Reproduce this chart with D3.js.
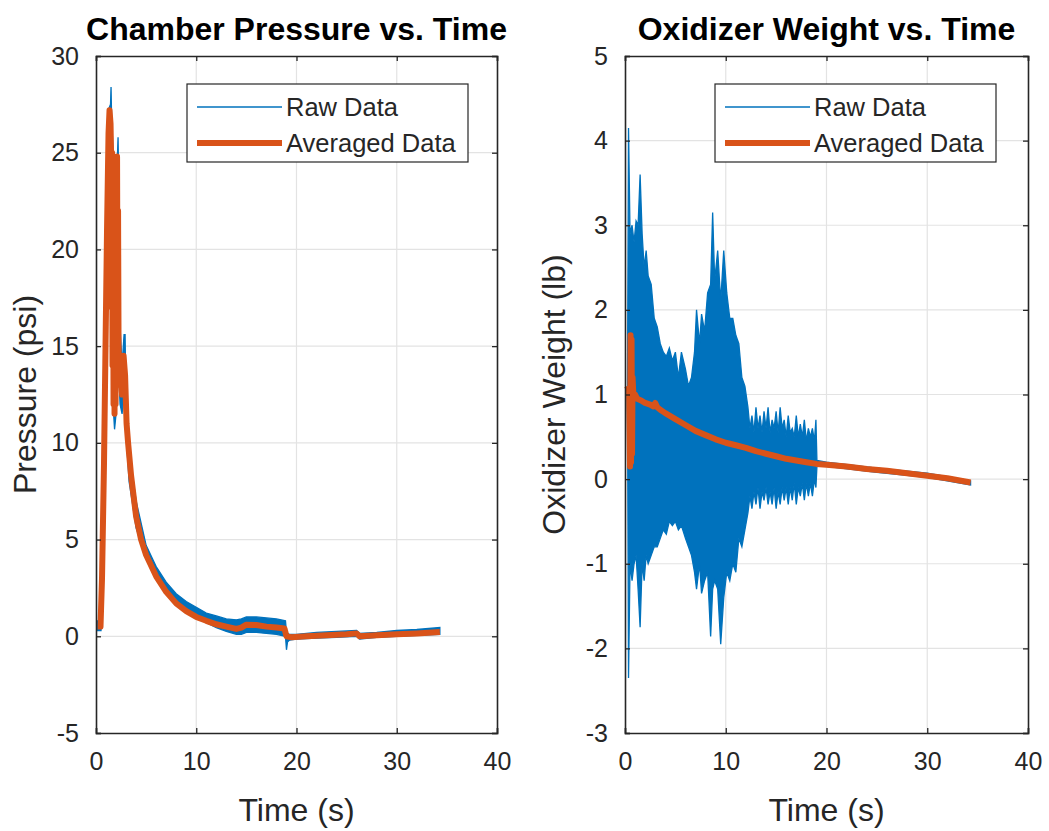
<!DOCTYPE html>
<html>
<head>
<meta charset="utf-8">
<script src="https://cdn.jsdelivr.net/npm/d3@7/dist/d3.min.js"></script>
<style>
  body { margin: 0; background: #fff; }
  text { font-family: "Liberation Sans", Arial, sans-serif; fill: #262626; }
</style>
</head>
<body>
<div id="vis"></div>
<script>
// ---- chamber pressure (psi) ----
const presRawTime = [0.15, 0.5, 0.6, 0.8, 0.95, 1.1, 1.3, 1.45, 1.5, 1.55, 1.7, 1.85, 2.0, 2.15, 2.2, 2.25, 2.4, 2.6, 2.8, 2.9, 3.0, 3.3, 3.6, 4, 5, 6, 7, 8, 9, 10, 11, 12, 13, 14, 14.5, 15, 16, 17, 18, 18.9, 19.0, 19.1, 19.3, 20, 22, 24, 26, 26.3, 28, 30, 32, 34.3]
const presRawHigh = [0.8, 0.8, 4, 10, 16, 22, 27.3, 27.5, 28.4, 27, 25, 23, 24, 25, 25.8, 24, 16, 14, 15.6, 15.6, 12, 10, 8.5, 7, 4.7, 3.6, 2.8, 2.2, 1.8, 1.5, 1.2, 1.05, 0.9, 0.85, 0.9, 1.0, 1.0, 0.95, 0.9, 0.8, 0.2, 0.15, 0.1, 0.1, 0.2, 0.25, 0.3, 0.15, 0.2, 0.3, 0.35, 0.45]
const presRawLow = [0.3, 0.3, 2, 8, 14, 20, 25.5, 26, 25, 16, 12, 10.7, 11.5, 14, 15, 14, 12, 11.5, 12.5, 13, 10.5, 8, 7, 5.6, 4.0, 3.0, 2.3, 1.7, 1.3, 1.0, 0.7, 0.45, 0.25, 0.1, 0.1, 0.2, 0.2, 0.15, 0.1, 0.0, -0.7, -0.3, -0.2, -0.15, -0.1, -0.05, 0.0, -0.15, -0.05, 0.0, 0.05, 0.1]
const presAvgTime = [0.15, 0.45, 0.6, 0.8, 0.95, 1.1, 1.25, 1.35, 1.45, 1.5, 1.55, 1.6, 1.65, 1.7, 1.75, 1.8, 1.85, 1.9, 1.95, 2.0, 2.05, 2.1, 2.15, 2.2, 2.25, 2.35, 2.45, 2.6, 2.75, 2.9, 3.05, 3.2, 3.5, 4, 4.5, 5, 6, 7, 8, 9, 10, 11, 12, 13, 14, 14.5, 15, 16, 17, 18, 18.8, 19.0, 19.5, 21, 23, 25, 26, 26.3, 28, 30, 32, 34.3]
const presAvg = [0.5, 0.5, 3, 9, 15, 21, 26, 27.2, 26.5, 25, 17, 25, 14, 23, 12, 21, 11.5, 19, 12, 22, 14, 24.8, 16, 22, 15, 13, 14, 12.5, 14.5, 13.5, 11, 10, 8.3, 6.2, 5.0, 4.2, 3.1, 2.3, 1.7, 1.3, 1.0, 0.8, 0.62, 0.5, 0.38, 0.45, 0.6, 0.58, 0.5, 0.45, 0.4, 0.0, -0.05, 0.0, 0.05, 0.1, 0.15, 0.0, 0.05, 0.1, 0.15, 0.22]

// ---- oxidizer weight (lb) ----
const oxRawTime = [0.25, 0.35, 0.5, 0.7, 0.9, 1.1, 1.3, 1.5, 1.7, 1.9, 2.1, 2.3, 2.6, 2.9, 3.2, 3.5, 3.8, 4.1, 4.4, 4.7, 5.0, 5.3, 5.6, 6.0, 6.3, 6.6, 6.9, 7.1, 7.4, 7.6, 7.9, 8.2, 8.5, 8.7, 8.9, 9.2, 9.5, 9.8, 10.1, 10.4, 10.7, 11.0, 11.3, 11.6, 11.9,
    12.2, 12.4, 12.6, 12.8, 13.0, 13.2, 13.4, 13.6, 13.8, 14.0, 14.2, 14.4, 14.6, 14.8, 15.0, 15.2, 15.4, 15.6, 15.8, 16.0, 16.2, 16.4, 16.6, 16.8, 17.0, 17.2, 17.4, 17.6, 17.8, 18.0, 18.2, 18.4, 18.6, 18.8, 18.95,
    19.05, 20, 25, 30, 34.3]
const oxRawHigh = [1.2, 4.15, 2.9, 3.0, 2.8, 3.05, 3.0, 3.6, 2.9, 2.5, 2.7, 2.4, 2.3, 1.9, 1.8, 1.6, 1.5, 1.45, 1.55, 1.4, 1.5, 1.2, 1.5, 1.3, 1.1, 1.2, 1.5, 2.0, 1.6, 1.95, 1.75, 2.2, 2.3, 3.15, 2.35, 2.7, 2.1, 2.7, 2.2, 1.9, 1.9, 1.7, 1.6, 1.2, 1.1,
    0.85, 0.6, 0.75, 0.55, 0.85, 0.6, 0.75, 0.55, 0.8, 0.6, 0.85, 0.55, 0.7, 0.6, 0.8, 0.55, 0.85, 0.6, 0.7, 0.5, 0.75, 0.55, 0.6, 0.5, 0.75, 0.5, 0.65, 0.5, 0.7, 0.45, 0.6, 0.5, 0.6, 0.45, 0.7,
    0.22, 0.2, 0.13, 0.07, -0.02]
const oxRawLow = [0.9, -2.35, -1.0, -1.2, -1.0, -0.9, -1.3, -1.75, -1.0, -1.2, -0.9, -1.0, -0.9, -0.8, -0.8, -0.7, -0.6, -0.65, -0.5, -0.55, -0.5, -0.6, -0.55, -0.7, -0.8, -0.9, -1.1, -1.3, -1.0, -1.35, -1.2, -1.1, -1.86, -1.3, -1.2, -1.3, -1.95, -1.4, -1.1, -1.2, -1.0, -1.1, -0.7, -0.8, -0.6,
    -0.4, -0.2, -0.35, -0.15, -0.3, -0.1, -0.35, -0.15, -0.25, -0.1, -0.3, -0.15, -0.3, -0.1, -0.35, -0.15, -0.3, -0.1, -0.25, -0.1, -0.3, -0.1, -0.25, -0.05, -0.3, -0.1, -0.2, -0.05, -0.25, -0.05, -0.2, -0.05, -0.2, 0.0, -0.1,
    0.15, 0.15, 0.08, 0.02, -0.07]
const oxAvgTime = [0.2, 0.4, 0.5, 0.55, 0.6, 0.65, 0.7, 0.75, 0.85, 1.0, 1.2, 1.6, 2.0, 2.5, 2.8, 3.0, 3.2, 3.5, 4, 5, 6, 7, 8, 9, 10, 11, 12, 13, 14, 15, 16, 17, 18, 19, 20, 22, 24, 26, 28, 30, 32, 34.3]
const oxAvg = [1.1, 1.05, 0.15, 1.7, 0.2, 1.65, 0.3, 1.2, 0.95, 1.0, 0.95, 0.93, 0.9, 0.88, 0.86, 0.9, 0.85, 0.82, 0.78, 0.71, 0.64, 0.57, 0.52, 0.47, 0.43, 0.4, 0.37, 0.33, 0.3, 0.27, 0.24, 0.22, 0.2, 0.18, 0.17, 0.15, 0.12, 0.1, 0.07, 0.04, 0.01, -0.04]

const xTicks = [0, 10, 20, 30, 40]
const presTicks = [-5, 0, 5, 10, 15, 20, 25, 30]
const oxTicks = [-3, -2, -1, 0, 1, 2, 3, 4, 5]
const legendLabels = ["Raw Data", "Averaged Data"]

const BLUE = "#0072BD"
const ORANGE = "#D95319"

;(function() {
    const width = 1049
    const height = 831

    const svg = d3.select("#vis")
        .append("svg")
        .attr("width", width)
        .attr("height", height)

    function panel(cfg) {
        const x = d3.scaleLinear().domain([0, 40]).range([cfg.left, cfg.right])
        const y = d3.scaleLinear().domain(cfg.yDomain).range([733, 56])
        const g = svg.append("g")

        // grid
        g.selectAll(".gx").data(xTicks.slice(1, -1)).join("line")
            .attr("x1", d => x(d)).attr("x2", d => x(d))
            .attr("y1", y.range()[0]).attr("y2", y.range()[1])
            .attr("stroke", "#e3e3e3").attr("stroke-width", 1.2)
        g.selectAll(".gy").data(cfg.yTicks.slice(1, -1)).join("line")
            .attr("x1", cfg.left).attr("x2", cfg.right)
            .attr("y1", d => y(d)).attr("y2", d => y(d))
            .attr("stroke", "#e3e3e3").attr("stroke-width", 1.2)

        // raw data envelope
        const idx = d3.range(cfg.rawT.length)
        g.append("path")
            .datum(idx)
            .attr("d", d3.area()
                .x(i => x(cfg.rawT[i]))
                .y0(i => y(cfg.rawLo[i]))
                .y1(i => y(cfg.rawHi[i])))
            .attr("fill", BLUE)
            .attr("stroke", BLUE)
            .attr("stroke-width", 1.3)
            .attr("stroke-linejoin", "miter")

        // averaged
        g.append("path")
            .datum(d3.range(cfg.avgT.length))
            .attr("d", d3.line().x(i => x(cfg.avgT[i])).y(i => y(cfg.avg[i])))
            .attr("fill", "none")
            .attr("stroke", ORANGE)
            .attr("stroke-width", 6)
            .attr("stroke-linejoin", "round")

        // axes (box on, ticks inward on all sides)
        const xb = g.append("g").attr("transform", `translate(0,${y.range()[0]})`)
            .call(d3.axisBottom(x).tickValues(xTicks).tickSize(-5).tickPadding(19).tickFormat(d3.format("d")))
        const xt = g.append("g").attr("transform", `translate(0,${y.range()[1]})`)
            .call(d3.axisTop(x).tickValues(xTicks).tickSize(-5).tickFormat(""))
        const yl = g.append("g").attr("transform", `translate(${cfg.left},0)`)
            .call(d3.axisLeft(y).tickValues(cfg.yTicks).tickSize(-5).tickPadding(17).tickFormat(d => String(d)))
        const yr = g.append("g").attr("transform", `translate(${cfg.right},0)`)
            .call(d3.axisRight(y).tickValues(cfg.yTicks).tickSize(-5).tickFormat(""))
        ;[xb, xt, yl, yr].forEach(a => {
            a.select(".domain").attr("stroke", "#262626").attr("stroke-width", 1.6)
            a.selectAll(".tick line").attr("stroke", "#262626").attr("stroke-width", 1.3)
            a.selectAll("text").attr("font-size", 25).attr("fill", "#262626")
                .style("font-family", '"Liberation Sans", Arial, sans-serif')
        })

        // title & labels
        const cx = (cfg.left + cfg.right) / 2
        g.append("text").attr("x", cx).attr("y", 40)
            .attr("text-anchor", "middle").attr("font-size", 32).attr("font-weight", "bold")
            .style("fill", "#000").text(cfg.title)
        g.append("text").attr("x", cx).attr("y", 821)
            .attr("text-anchor", "middle").attr("font-size", 32).text("Time (s)")
        g.append("text")
            .attr("transform", `translate(${cfg.left - 60},${(56 + 733) / 2}) rotate(-90)`)
            .attr("text-anchor", "middle").attr("font-size", 32).text(cfg.yLabel)

        // legend
        const lx = cfg.legendLeft
        const leg = g.append("g")
        leg.append("rect").attr("x", lx).attr("y", 84).attr("width", 281).attr("height", 78)
            .attr("fill", "#fff").attr("stroke", "#262626").attr("stroke-width", 1.2)
        legendLabels.forEach((lab, i) => {
            const ly = 107 + i * 36
            leg.append("line").attr("x1", lx + 10).attr("x2", lx + 95)
                .attr("y1", ly).attr("y2", ly)
                .attr("stroke", i === 0 ? BLUE : ORANGE)
                .attr("stroke-width", i === 0 ? 1.5 : 6)
            leg.append("text").attr("x", lx + 99).attr("y", ly).attr("dy", "0.36em")
                .attr("font-size", 25.5).text(lab)
        })
    }

    panel({
        left: 96, right: 497, yDomain: [-5, 30], yTicks: presTicks,
        title: "Chamber Pressure vs. Time", yLabel: "Pressure (psi)",
        rawT: presRawTime, rawHi: presRawHigh, rawLo: presRawLow,
        avgT: presAvgTime, avg: presAvg, legendLeft: 187
    })
    panel({
        left: 625, right: 1028, yDomain: [-3, 5], yTicks: oxTicks,
        title: "Oxidizer Weight vs. Time", yLabel: "Oxidizer Weight (lb)",
        rawT: oxRawTime, rawHi: oxRawHigh, rawLo: oxRawLow,
        avgT: oxAvgTime, avg: oxAvg, legendLeft: 715
    })
})();
</script>
</body>
</html>
